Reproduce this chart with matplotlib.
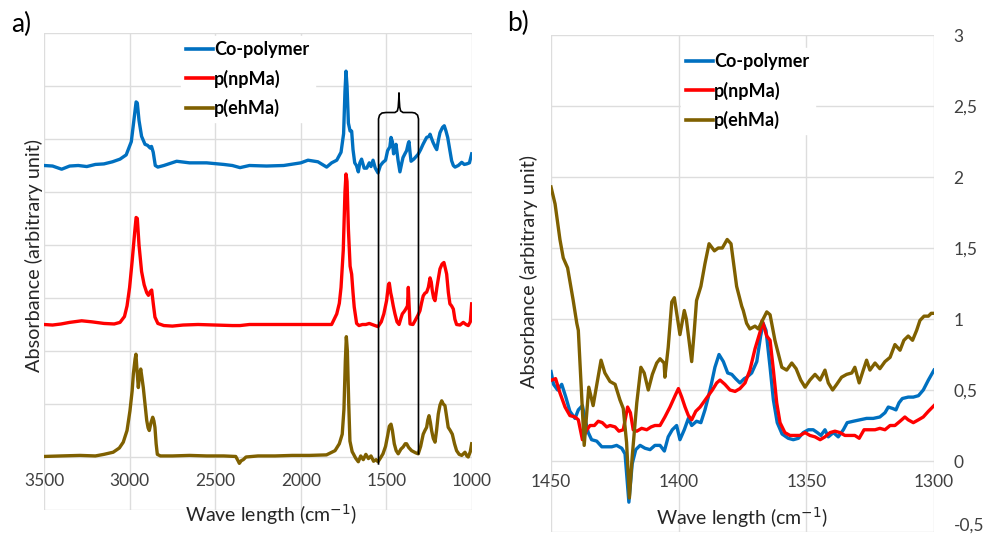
import matplotlib
matplotlib.use("Agg")
import matplotlib.pyplot as plt
from matplotlib.lines import Line2D
from matplotlib.transforms import ScaledTranslation

plt.rcParams['font.family'] = ['Lato', 'DejaVu Sans']

# ---------------- data: panel a (full spectra, offset, arbitrary units) ----------------
series_names = ["Co-polymer", "p(npMa)", "p(ehMa)"]
series_colors = ["#0070C0", "#FF0000", "#7F6000"]

copoly_a_wn = [3500, 3450, 3397, 3350, 3300, 3250, 3200, 3150, 3100, 3056, 3020, 2990, 2975, 2962, 2955,
               2945, 2930, 2910, 2895, 2880, 2872, 2862, 2850, 2835, 2800, 2725, 2650, 2550, 2450, 2400,
               2355, 2300, 2200, 2100, 2000, 1958, 1900, 1849, 1820, 1790, 1765, 1750, 1742, 1736, 1730,
               1722, 1712, 1703, 1695, 1685, 1675, 1664, 1655, 1645, 1630, 1615, 1600, 1590, 1578, 1565,
               1549, 1535, 1520, 1505, 1493, 1480, 1473, 1465, 1458, 1450, 1444, 1432, 1421, 1410, 1403,
               1392, 1382, 1372, 1368, 1362, 1356, 1340, 1315, 1300, 1286, 1265, 1250, 1245, 1235, 1228,
               1215, 1206, 1195, 1187, 1172, 1162, 1152, 1142, 1130, 1119, 1109, 1099, 1080, 1060, 1045,
               1031, 1015, 1002]
copoly_a_val = [5.50, 5.49, 5.43, 5.49, 5.50, 5.48, 5.52, 5.53, 5.57, 5.62, 5.70, 5.95, 6.35, 6.70, 6.68,
                6.35, 6.05, 5.90, 5.88, 5.83, 5.86, 5.75, 5.50, 5.47, 5.50, 5.58, 5.55, 5.55, 5.52, 5.50,
                5.46, 5.50, 5.49, 5.50, 5.55, 5.60, 5.57, 5.47, 5.55, 5.60, 5.75, 6.10, 6.90, 7.28, 7.00,
                6.30, 6.15, 6.15, 5.80, 5.55, 5.50, 5.38, 5.55, 5.62, 5.45, 5.45, 5.55, 5.48, 5.60, 5.45,
                5.36, 5.50, 5.56, 5.60, 5.78, 5.85, 6.03, 5.95, 5.72, 5.80, 5.90, 5.60, 5.38, 5.55, 5.65,
                5.72, 5.78, 5.92, 5.95, 5.75, 5.58, 5.62, 5.71, 5.80, 5.90, 6.03, 6.05, 6.09, 6.00, 5.94,
                5.85, 5.80, 6.00, 6.12, 6.22, 6.25, 6.15, 6.03, 5.80, 5.59, 5.50, 5.47, 5.50, 5.56, 5.52,
                5.53, 5.55, 5.72]

npma_a_wn = [3500, 3450, 3400, 3350, 3280, 3220, 3150, 3090, 3056, 3030, 3015, 3000, 2985, 2970, 2962,
             2955, 2945, 2930, 2915, 2900, 2890, 2880, 2871, 2862, 2852, 2835, 2800, 2750, 2688, 2600,
             2500, 2400, 2355, 2300, 2200, 2100, 2000, 1900, 1820, 1790, 1775, 1765, 1752, 1742, 1736,
             1730, 1722, 1712, 1703, 1695, 1688, 1674, 1660, 1640, 1620, 1600, 1575, 1549, 1530, 1515,
             1499, 1488, 1483, 1475, 1469, 1460, 1450, 1438, 1426, 1415, 1407, 1395, 1387, 1377, 1372,
             1368, 1362, 1345, 1333, 1315, 1304, 1295, 1285, 1275, 1265, 1255, 1245, 1238, 1232, 1224,
             1216, 1205, 1195, 1187, 1175, 1164, 1155, 1148, 1138, 1129, 1119, 1109, 1100, 1090, 1070,
             1051, 1035, 1022, 1010, 1002]
npma_a_val = [2.50, 2.49, 2.51, 2.54, 2.57, 2.55, 2.52, 2.51, 2.54, 2.65, 2.85, 3.20, 3.70, 4.25, 4.52,
              4.50, 4.00, 3.50, 3.25, 3.10, 3.05, 3.12, 3.15, 2.90, 2.64, 2.52, 2.48, 2.47, 2.49, 2.50,
              2.49, 2.48, 2.48, 2.50, 2.50, 2.50, 2.50, 2.50, 2.50, 2.70, 2.90, 3.20, 3.90, 5.00, 5.34,
              5.20, 4.30, 3.60, 3.45, 3.10, 2.83, 2.52, 2.48, 2.50, 2.50, 2.52, 2.49, 2.46, 2.55, 2.70,
              2.95, 3.25, 3.28, 3.10, 3.01, 2.85, 2.70, 2.55, 2.50, 2.62, 2.70, 2.75, 2.79, 2.85, 3.20,
              2.90, 2.51, 2.50, 2.57, 2.68, 2.76, 2.90, 3.04, 3.09, 3.11, 3.20, 3.38, 3.30, 3.14, 3.00,
              2.95, 3.20, 3.40, 3.55, 3.64, 3.67, 3.55, 3.45, 3.10, 2.89, 2.85, 2.79, 2.60, 2.50, 2.49,
              2.54, 2.50, 2.48, 2.55, 2.89]

ehma_a_wn = [3500, 3400, 3290, 3200, 3150, 3096, 3060, 3037, 3015, 2998, 2985, 2978, 2968, 2963, 2956,
             2949, 2942, 2935, 2928, 2920, 2910, 2900, 2892, 2885, 2875, 2865, 2858, 2852, 2845, 2838,
             2820, 2750, 2650, 2550, 2450, 2380, 2365, 2359, 2348, 2336, 2320, 2250, 2150, 2050, 1950,
             1850, 1800, 1775, 1758, 1748, 1740, 1734, 1728, 1720, 1713, 1700, 1693, 1680, 1664, 1650,
             1635, 1620, 1605, 1590, 1575, 1560, 1549, 1535, 1520, 1505, 1493, 1483, 1473, 1465, 1454,
             1443, 1431, 1415, 1402, 1390, 1382, 1370, 1353, 1330, 1314, 1300, 1285, 1275, 1265, 1258,
             1251, 1243, 1236, 1226, 1216, 1207, 1197, 1187, 1177, 1168, 1158, 1150, 1139, 1127, 1115,
             1102, 1090, 1075, 1060, 1041, 1030, 1022, 1010, 1002]
ehma_a_val = [0.01, 0.02, 0.03, 0.02, 0.05, 0.09, 0.17, 0.28, 0.50, 0.87, 1.25, 1.57, 1.85, 1.94, 1.60,
              1.31, 1.55, 1.66, 1.50, 1.31, 1.00, 0.69, 0.55, 0.50, 0.65, 0.75, 0.68, 0.56, 0.25, 0.05,
              0.02, 0.02, 0.03, 0.02, 0.02, 0.01, -0.08, -0.12, -0.07, -0.05, 0.00, 0.02, 0.02, 0.03, 0.03,
              0.04, 0.12, 0.25, 0.43, 0.90, 1.80, 2.27, 2.00, 1.00, 0.30, 0.10, 0.06, -0.02, -0.09, 0.02,
              -0.05, 0.05, -0.03, 0.02, -0.08, -0.05, -0.09, -0.02, 0.06, 0.20, 0.40, 0.58, 0.62, 0.50, 0.25,
              0.12, 0.06, 0.15, 0.19, 0.25, 0.25, 0.18, 0.12, 0.08, 0.06, 0.20, 0.43, 0.50, 0.56, 0.70,
              0.78, 0.65, 0.50, 0.35, 0.28, 0.50, 0.81, 0.98, 1.06, 1.00, 0.97, 0.80, 0.56, 0.50, 0.43,
              0.25, 0.12, 0.05, 0.03, 0.09, 0.02, 0.00, 0.10, 0.25]

# bracket marking the 1550-1310 cm-1 zoom region (data coords of panel a)
bracket_wn = [1546, 1546, 1540, 1526, 1502, 1450, 1436, 1431, 1428, 1426.5, 1425, 1422, 1417, 1403,
              1350, 1333, 1318, 1312.6, 1312.6]
bracket_val = [-0.13, 6.38, 6.45, 6.49, 6.50, 6.50, 6.53, 6.60, 6.74, 6.87, 6.74, 6.60, 6.53, 6.50,
               6.50, 6.49, 6.45, 6.38, 0.06]

a_xticks = [3500, 3000, 2500, 2000, 1500, 1000]
a_ygrid = [-1, 0, 1, 2, 3, 4, 5, 6, 7, 8]

# ---------------- data: panel b (1450-1300 cm-1 zoom) ----------------
copoly_b_wn = [1450, 1449, 1447.4, 1445.8, 1444.2, 1442.6, 1440.6, 1439.3, 1437.7, 1436.6, 1435.4, 1434.1,
               1432.1, 1430.1, 1428.2, 1426.2, 1424.3, 1422.3, 1421, 1419.5, 1418.2, 1416.8, 1415.1, 1413.2,
               1411.2, 1409.3, 1407.3, 1405.6, 1404.1, 1402.5, 1400.8, 1399.5, 1397.8, 1396.2, 1394.9, 1393,
               1391.3, 1389.7, 1388.4, 1387.1, 1385.8, 1384.2, 1382.5, 1380.8, 1379.2, 1377.7, 1376, 1374.3,
               1373.3, 1371.4, 1369.4, 1367.9, 1366.9, 1365.8, 1364.2, 1362.9, 1361.4, 1359.5, 1357.1,
               1355.1, 1353.1, 1351.2, 1349.2, 1347.3, 1345.7, 1344.3, 1342.7, 1341.4, 1339.4, 1337.5,
               1335.5, 1334, 1331.6, 1329, 1326.4, 1323.8, 1321.2, 1319.2, 1317.9, 1316.2, 1314.9, 1313.7,
               1312.4, 1310.1, 1308.1, 1306.1, 1304.2, 1302.2, 1300]
copoly_b_val = [0.63, 0.54, 0.50, 0.54, 0.45, 0.35, 0.30, 0.36, 0.39, 0.29, 0.20, 0.15,
                0.14, 0.10, 0.10, 0.10, 0.11, 0.09, 0.05, -0.29, -0.02, 0.08, 0.11, 0.09,
                0.08, 0.11, 0.11, 0.07, 0.17, 0.22, 0.25, 0.15, 0.22, 0.30, 0.25, 0.28,
                0.27, 0.36, 0.45, 0.55, 0.66, 0.75, 0.70, 0.62, 0.61, 0.58, 0.55, 0.58,
                0.59, 0.62, 0.70, 0.88, 0.97, 0.92, 0.66, 0.43, 0.27, 0.19, 0.16,
                0.15, 0.16, 0.20, 0.22, 0.22, 0.20, 0.18, 0.22, 0.17, 0.20, 0.17,
                0.22, 0.27, 0.28, 0.29, 0.30, 0.30, 0.31, 0.34, 0.38, 0.37, 0.36, 0.41,
                0.44, 0.45, 0.45, 0.46, 0.50, 0.57, 0.64]

npma_b_wn = [1449.7, 1448.2, 1446.5, 1444.5, 1442.6, 1440.6, 1439.3, 1437.7, 1436, 1434.7, 1433, 1431.5,
             1429.9, 1428.2, 1426.9, 1424.9, 1423.4, 1421.7, 1420, 1418.9, 1417.8, 1416.4, 1414.5, 1412.5,
             1410.8, 1409.3, 1407.3, 1405.4, 1403.4, 1401.4, 1400.1, 1398.8, 1397.5, 1396.2, 1394.9, 1393.3,
             1391.6, 1390, 1388.4, 1386.8, 1385.1, 1383.8, 1381.9, 1379.9, 1377.9, 1376, 1374, 1372.1,
             1370.1, 1368.1, 1367.3, 1365.5, 1364.2, 1362.9, 1361.6, 1360.3, 1358.4, 1356.4, 1354.4,
             1352.5, 1350.5, 1348.6, 1346.6, 1344.6, 1342.7, 1340.7, 1338.8, 1336.8, 1334.9, 1332.9, 1331,
             1329.3, 1327.4, 1325.1, 1323.1, 1321.2, 1319.2, 1317.2, 1315.3, 1313.3, 1311.4, 1310.1, 1308.1,
             1306.1, 1304.2, 1302.2, 1300]
npma_b_val = [0.57, 0.58, 0.48, 0.38, 0.32, 0.31, 0.29, 0.15, 0.22, 0.25, 0.25, 0.28,
              0.27, 0.24, 0.25, 0.24, 0.21, 0.22, 0.38, 0.34, 0.22, 0.21, 0.23, 0.22,
              0.24, 0.25, 0.25, 0.31, 0.38, 0.46, 0.51, 0.45, 0.38, 0.32, 0.29, 0.35,
              0.38, 0.42, 0.46, 0.50, 0.55, 0.57, 0.54, 0.50, 0.49, 0.51, 0.55, 0.64,
              0.79, 0.91, 0.99, 0.88, 0.85, 0.64, 0.41, 0.27, 0.20, 0.18, 0.18,
              0.18, 0.20, 0.18, 0.17, 0.15, 0.17, 0.20, 0.21, 0.20, 0.18, 0.18, 0.18,
              0.16, 0.22, 0.22, 0.22, 0.23, 0.22, 0.25, 0.25, 0.28, 0.31, 0.29, 0.27,
              0.29, 0.31, 0.35, 0.39]

ehma_b_wn = [1450, 1448.4, 1446.5, 1445.2, 1443.5, 1441.3, 1439.9, 1439.3, 1437, 1435.2, 1433.5, 1430.4,
             1428.9, 1426.9, 1424.9, 1423, 1421.7, 1420.4, 1419.3, 1418.2, 1416.4, 1414.8, 1413.5, 1411.9,
             1410.3, 1408.6, 1407.3, 1405.7, 1405.4, 1404.1, 1402.7, 1401.7, 1399.5, 1397.8, 1397, 1394.9,
             1394, 1393, 1391.3, 1389.7, 1388.1, 1386, 1384.5, 1382.9, 1381, 1379.5, 1377.3, 1375.3,
             1374.7, 1373.4, 1372.1, 1370.1, 1368.8, 1366.9, 1365.5, 1364.2, 1362.3, 1361.6, 1359.6,
             1357.7, 1355.7, 1354, 1352.2, 1350.5, 1348.6, 1346.6, 1344.6, 1342.7, 1341.4, 1339.7, 1338.1,
             1336.2, 1334.2, 1332.2, 1331, 1329.3, 1327.7, 1326.4, 1325.1, 1323.1, 1321.2, 1319.2, 1317.2,
             1315.3, 1313.3, 1311.8, 1310.1, 1308.4, 1306.8, 1305.5, 1303.9, 1302.2, 1301.1, 1300]
ehma_b_val = [1.93, 1.81, 1.56, 1.43, 1.36, 1.13, 0.97, 0.92, 0.11, 0.52, 0.39, 0.71,
              0.62, 0.56, 0.54, 0.43, 0.37, 0.13, -0.26, 0.03, 0.41, 0.66, 0.62, 0.50,
              0.61, 0.69, 0.72, 0.69, 0.59, 0.80, 1.12, 1.15, 0.89, 1.06, 1.00, 0.70,
              0.89, 1.13, 1.23, 1.39, 1.53, 1.48, 1.50, 1.50, 1.56, 1.53, 1.23, 1.09,
              1.06, 0.97, 0.93, 0.95, 0.93, 1.00, 1.05, 1.03, 0.85, 0.80, 0.66,
              0.64, 0.69, 0.65, 0.57, 0.52, 0.57, 0.61, 0.57, 0.64, 0.55, 0.50, 0.54,
              0.59, 0.61, 0.62, 0.66, 0.55, 0.64, 0.71, 0.64, 0.69, 0.65, 0.70, 0.73,
              0.82, 0.78, 0.85, 0.88, 0.85, 0.92, 0.99, 1.02, 1.02, 1.04, 1.04]

b_xticks = [1450, 1400, 1350, 1300]
b_yticks = [-0.5, 0, 0.5, 1, 1.5, 2, 2.5, 3]
b_ytick_labels = ["-0,5", "0", "0,5", "1", "1,5", "2", "2,5", "3"]

# ---------------- figure ----------------
W, H = 983, 538
fig = plt.figure(figsize=(W / 100, H / 100), dpi=100)

def fx(px):
    return px / W

def fy(py):
    return 1 - py / H

grid_color = "#DDDDDD"
lw = 2.4
tick_color = "#404040"
tick_size = 12.5

# panel a
axa = fig.add_axes([fx(44), fy(510), fx(472) - fx(44), fy(33) - fy(510)])
axa.plot(copoly_a_wn, copoly_a_val, color=series_colors[0], lw=lw, solid_joinstyle='round', zorder=3)
axa.plot(npma_a_wn, npma_a_val, color=series_colors[1], lw=lw, solid_joinstyle='round', zorder=3)
axa.plot(ehma_a_wn, ehma_a_val, color=series_colors[2], lw=lw, solid_joinstyle='round', zorder=3)
axa.plot(bracket_wn, bracket_val, color="black", lw=1.2, zorder=4)
axa.set_xlim(3500, 1000)
axa.set_ylim(-1, 8)
axa.set_xticks(a_xticks)
axa.set_xticklabels([str(t) for t in a_xticks])
axa.set_yticks(a_ygrid)
axa.set_yticklabels([])
axa.grid(True, color=grid_color, lw=1.0, zorder=0)
axa.set_axisbelow(True)
for s in axa.spines.values():
    s.set_visible(False)
axa.tick_params(axis='both', length=0)
axa.tick_params(axis='x', labelsize=tick_size, pad=-27, colors=tick_color)

handles = [Line2D([], [], color=c, lw=2.6) for c in series_colors]
leg_kw = dict(bbox_transform=fig.transFigure, prop={'weight': 'bold', 'size': 13},
              handlelength=1.45, handletextpad=0.08, labelspacing=0.62, borderpad=0.3,
              borderaxespad=0, frameon=True, fancybox=False, framealpha=1, edgecolor='white')
leg_a = axa.legend(handles, series_names, loc='upper left', bbox_to_anchor=(fx(181), fy(36)), **leg_kw)
leg_a.set_zorder(5)

# panel b
axb = fig.add_axes([fx(551), fy(532), fx(934) - fx(551), fy(35) - fy(532)])
axb.plot(copoly_b_wn, copoly_b_val, color=series_colors[0], lw=lw, solid_joinstyle='round', zorder=3)
axb.plot(npma_b_wn, npma_b_val, color=series_colors[1], lw=lw, solid_joinstyle='round', zorder=3)
axb.plot(ehma_b_wn, ehma_b_val, color=series_colors[2], lw=lw, solid_joinstyle='round', zorder=3)
axb.set_xlim(1450, 1300)
axb.set_ylim(-0.5, 3)
axb.set_xticks(b_xticks)
axb.set_xticklabels([str(t) for t in b_xticks])
axb.set_yticks(b_yticks)
axb.yaxis.tick_right()
axb.grid(True, color=grid_color, lw=1.0, zorder=0)
axb.set_axisbelow(True)
for s in axb.spines.values():
    s.set_visible(False)
axb.tick_params(axis='both', length=0, labelsize=tick_size, colors=tick_color)
axb.tick_params(axis='x', pad=-42)
axb.tick_params(axis='y', pad=14)
axb.set_yticklabels(b_ytick_labels)

leg_b = axb.legend(handles, series_names, loc='upper left', bbox_to_anchor=(fx(681), fy(48)), **leg_kw)
leg_b.set_zorder(5)

# texts
fig.text(fx(21), fy(24), "a)", fontsize=19, ha='center', va='center')
fig.text(fx(518), fy(23), "b)", fontsize=19, ha='center', va='center')
fig.text(fx(34), fy(256), "Absorbance (arbitrary unit)", fontsize=14.3, rotation=90,
         ha='center', va='center', color="#262626")
fig.text(fx(529), fy(271), "Absorbance (arbitrary unit)", fontsize=14.3, rotation=90,
         ha='center', va='center', color="#262626")
fig.text(fx(271), fy(515), "Wave length (cm$^{-1}$)", fontsize=14, ha='center', va='center',
         color="#262626")
fig.text(fx(742), fy(518), "Wave length (cm$^{-1}$)", fontsize=14, ha='center', va='center',
         color="#262626")

# keep the lowest right-hand tick label (-0,5) fully inside the canvas
fig.canvas.draw()
low_label = axb.yaxis.get_ticklabels(which='major')[0]
for t in axb.yaxis.get_major_ticks()[:1]:
    lab = t.label2
    lab.set_transform(lab.get_transform() + ScaledTranslation(0, 6 / 72, fig.dpi_scale_trans))

fig.savefig("out.png", dpi=100)
